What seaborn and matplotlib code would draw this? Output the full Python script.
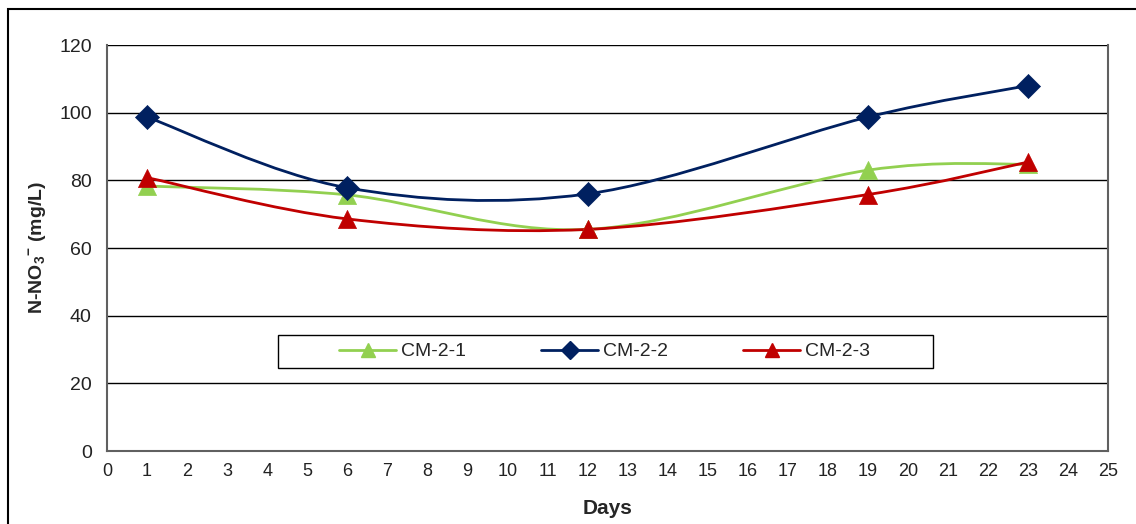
import matplotlib
matplotlib.use("Agg")
import matplotlib.pyplot as plt
from matplotlib.path import Path
from matplotlib.patches import PathPatch, Rectangle
from matplotlib.lines import Line2D
import numpy as np
import pandas as pd
import seaborn as sns

# values
days = [1, 6, 12, 19, 23]
cm_2_1 = [78.3, 75.7, 65.5, 83.0, 84.8]
cm_2_2 = [98.7, 77.8, 76.0, 98.7, 108.0]
cm_2_3 = [80.8, 68.6, 65.5, 75.8, 85.4]
series_names = ["CM-2-1", "CM-2-2", "CM-2-3"]
colors = ["#92D050", "#002060", "#C00000"]
markers = ["^", "D", "^"]

sns.set_style("white")
plt.rcParams["font.family"] = ["Liberation Sans", "DejaVu Sans"]
plt.rcParams["mathtext.fontset"] = "custom"
plt.rcParams["mathtext.bf"] = "Liberation Sans:bold"
plt.rcParams["mathtext.rm"] = "Liberation Sans"


def smooth_path(xs, ys):
    # excel-like smoothed line: cubic bezier through the points
    pts = np.column_stack([xs, ys]).astype(float)
    n = len(pts)
    verts = [pts[0]]
    codes = [Path.MOVETO]
    for i in range(n - 1):
        p0 = pts[max(i - 1, 0)]
        p1 = pts[i]
        p2 = pts[i + 1]
        p3 = pts[min(i + 2, n - 1)]
        c1 = p1 + (p2 - p0) / 6.0
        c2 = p2 - (p3 - p1) / 6.0
        verts += [c1, c2, p2]
        codes += [Path.CURVE4] * 3
    return Path(verts, codes)


df = pd.DataFrame({
    "day": days * 3,
    "value": cm_2_1 + cm_2_2 + cm_2_3,
    "series": sum([[s] * len(days) for s in series_names], []),
})

fig = plt.figure(figsize=(11.36, 5.24), dpi=100)
ax = fig.add_axes([0.0942, 0.1393, 0.8812, 0.7748])

for name, col, mk in zip(series_names, colors, markers):
    sub = df[df["series"] == name]
    patch = PathPatch(smooth_path(sub["day"], sub["value"]), facecolor="none",
                      edgecolor=col, lw=2, zorder=3)
    ax.add_patch(patch)
    sns.scatterplot(data=sub, x="day", y="value", color=col, marker=mk,
                    s=170 if mk == "^" else 150, edgecolor=col, linewidth=0.5,
                    ax=ax, zorder=4, legend=False)

ax.set_xlim(0, 25)
ax.set_ylim(0, 120)
ax.set_xticks(range(0, 26))
ax.set_yticks(range(0, 121, 20))
ax.yaxis.grid(True, color="black", lw=1)
ax.set_axisbelow(True)
ax.tick_params(axis="both", direction="out", length=5, width=1, color="#606060",
               labelcolor="#222222")
ax.tick_params(axis="x", labelsize=13)
ax.tick_params(axis="y", labelsize=14, pad=6)
for side in ["left", "right", "bottom"]:
    ax.spines[side].set_color("#606060")
    ax.spines[side].set_linewidth(1.5)
ax.spines["top"].set_visible(False)

ax.set_xlabel("Days", fontsize=15, fontweight="bold", labelpad=14)
ax.set_ylabel(r"N-NO$_\mathbf{3}$$^\mathbf{-}$ (mg/L)", fontsize=14,
              fontweight="bold", labelpad=7)

handles = [Line2D([0], [0], color=c, marker=m, lw=2, markersize=10 if m == "^" else 9)
           for c, m in zip(colors, markers)]
leg = ax.legend(handles, series_names, loc="center", bbox_to_anchor=(0.497, 0.245),
                ncol=3, fontsize=14, frameon=False, handlelength=2.9,
                columnspacing=3.9, handletextpad=0.25)
# legend box as drawn in the source chart (wider than its contents)
ax.add_patch(Rectangle((0.1708, 0.2044), 0.6543, 0.0813, transform=ax.transAxes,
                       facecolor="white", edgecolor="black", lw=1, zorder=5))
leg.set_zorder(6)

fig.patches.append(Rectangle((8 / 1136, -0.2), 1.2, 0.2 + 1 - 9 / 524,
                             transform=fig.transFigure, fill=False,
                             edgecolor="black", lw=1.5))

fig.savefig("out.png", dpi=100)
